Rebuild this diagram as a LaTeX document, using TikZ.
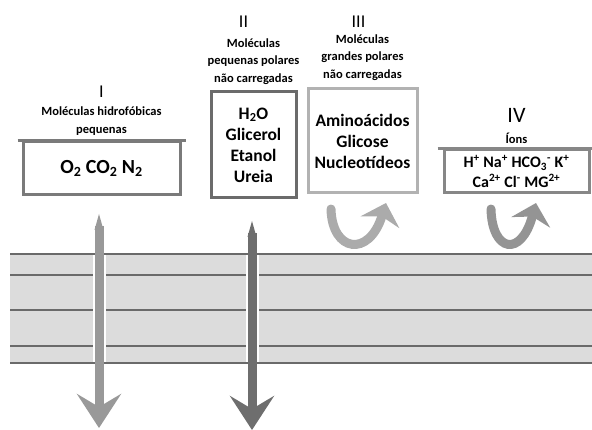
\documentclass[tikz,border=0pt]{standalone}
\usepackage{fontspec}
\setmainfont{Carlito}
\usetikzlibrary{arrows.meta}
\usetikzlibrary{positioning}

\definecolor{membfill}{HTML}{DCDCDC}
\definecolor{membline}{HTML}{6A6A6A}

\tikzset{
  box/.style={draw, line width=3pt, align=center, inner sep=0pt,
    font=\bfseries\fontsize{17.5}{21}\selectfont},
  title/.style={align=center, inner sep=0pt, font=\bfseries\fontsize{12.5}{17.5}\selectfont},
  numeral/.style={inner sep=0pt, font=\fontsize{18}{18}\selectfont},
  downarrow/.style={line width=9pt, -{Stealth[width=44pt,length=34pt,inset=13pt]}},
  turnarrow/.style={line width=9pt, line cap=round, -{Stealth[width=40pt,length=20pt,inset=6pt]}},
}

\begin{document}
\begin{tikzpicture}[x=1pt,y=-1pt]
  \useasboundingbox (0,0) rectangle (592,430);
  % membrane
  \fill[membfill] (10,254) rectangle (592,363);
  \foreach \y in {254,275,310,346,363}
    \draw[membline, line width=1.5pt] (10,\y) -- (592,\y);

  % boxes
  \node[box, draw=black!52, minimum width=157pt, minimum height=53pt, font=\bfseries\fontsize{20}{21}\selectfont] (hidro) at (101.5,168.5) {O\textsubscript{2} CO\textsubscript{2} N\textsubscript{2}};
  \node[box, draw=black!58, minimum width=85pt, minimum height=106pt] (pequenas) at (253.5,145) {H\textsubscript{2}O\\Glicerol\\Etanol\\Ureia};
  \node[box, draw=black!30, minimum width=109pt, minimum height=104pt] (grandes) at (362.5,141) {Amino\'acidos\\Glicose\\Nucleot\'ideos};
  \node[box, draw=black!47, minimum width=145pt, minimum height=43pt, font=\bfseries\fontsize{16}{20}\selectfont] (ions) at (516.5,171.5) {H\textsuperscript{+} Na\textsuperscript{+} HCO\textsubscript{3}\textsuperscript{-} K\textsuperscript{+}\\Ca\textsuperscript{2+} Cl\textsuperscript{-} MG\textsuperscript{2+}};
  \draw[black!52, line width=3pt] ([xshift=-4pt]hidro.north west) -- ([xshift=4pt]hidro.north east);
  \draw[black!47, line width=3pt] ([xshift=-5pt]ions.north west) -- ([xshift=3pt]ions.north east);

  % titles
  \node[title, above=5pt of hidro] (t1) {Mol\'eculas hidrof\'obicas\\pequenas};
  \node[title, above=6pt of pequenas] (t2) {Mol\'eculas\\pequenas polares\\n\~ao carregadas};
  \node[title, above=7pt of grandes] (t3) {Mol\'eculas\\grandes polares\\n\~ao carregadas};
  \node[title, above=5pt of ions] (t4) {\'Ions};
  \node[numeral, above=9pt of t1] (n1) {I};
  \node[numeral, above=11pt of t2, xshift=-10pt] (n2) {II};
  \node[numeral, above=7pt of t3, xshift=-4pt] (n3) {III};
  \node[numeral, above=10pt of t4, font=\fontsize{22}{22}\selectfont] (n4) {IV};

  % straight arrows through the membrane
  \coordinate (a1s) at (99,226);
  \coordinate (a1e) at (99,428);
  \coordinate (a2s) at (252,233);
  \coordinate (a2e) at (252,430);
  \draw[white, line width=13pt] (99,255) -- (99,362);
  \draw[white, line width=13pt] (252,255) -- (252,362);
  \fill[black!40] (99,214) -- (103.5,230) -- (94.5,230) -- cycle;
  \draw[black!40, downarrow] (a1s) -- (a1e);
  \fill[black!57] (252,221) -- (256.5,237) -- (247.5,237) -- cycle;
  \draw[black!57, downarrow] (a2s) -- (a2e);

  % turning arrows
  \coordinate (c3s) at (331,209);
  \coordinate (c3e) at (386,203);
  \coordinate (c4s) at (491,209);
  \coordinate (c4e) at (536,203);
  \draw[black!33, turnarrow] (c3s) .. controls (332,252) and (369,258) .. (c3e);
  \draw[black!42, turnarrow] (c4s) .. controls (492,252) and (521,258) .. (c4e);
\end{tikzpicture}
\end{document}
